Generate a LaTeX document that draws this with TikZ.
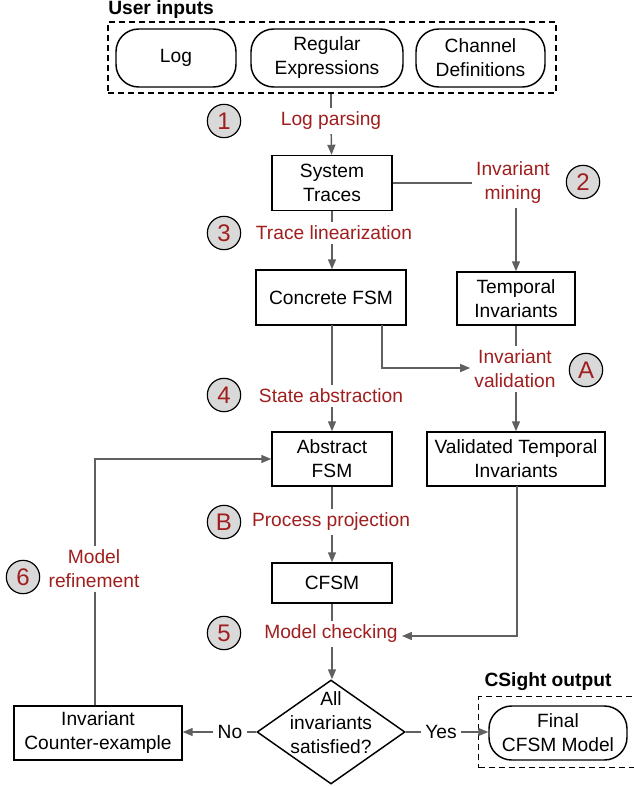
\documentclass[tikz,border=0pt]{standalone}
\usepackage{fontspec}
\setmainfont{Liberation Sans}
\usetikzlibrary{arrows.meta,shapes.geometric}

\definecolor{labred}{HTML}{A01E1E}
\definecolor{linegray}{HTML}{606060}
\definecolor{circfill}{HTML}{D9D9D9}

\begin{document}
\begin{tikzpicture}[x=0.75pt,y=-0.75pt,
  every node/.style={font=\fontsize{14.4pt}{18pt}\selectfont, align=center},
  box/.style={draw=black, line width=1.1pt, fill=white, inner sep=0pt},
  pill/.style={box, rounded corners=17pt},
  grp/.style={draw=black, line width=1.1pt, dash pattern=on 4.5pt off 3pt, inner sep=0pt},
  steplabel/.style={text=labred, inner sep=3pt},
  badge/.style={circle, draw=black, line width=0.9pt, fill=circfill, minimum size=25pt,
    inner sep=0pt, text=labred, font=\fontsize{18pt}{18pt}\selectfont},
  title/.style={font=\fontsize{14.4pt}{18pt}\selectfont\bfseries, inner sep=0pt},
  conn/.style={draw=linegray, line width=1.1pt},
  arr/.style={conn, -{Triangle[length=7.5pt,width=6pt]}},
]
\useasboundingbox (0,0) rectangle (634,786);

% ---- user inputs group
\node[grp, minimum width=336pt, minimum height=53.25pt] (inputs) at (332,57.5) {};
\node[title, anchor=west] (inputsT) at (108,10) {User inputs};
\node[pill, minimum width=90pt, minimum height=43.5pt] (log) at (176,58) {Log};
\node[pill, minimum width=114pt, minimum height=43.5pt] (regex) at (327,58) {Regular\\Expressions};
\node[pill, minimum width=96.75pt, minimum height=43.5pt] (chan) at (480.5,58) {Channel\\Definitions};

% ---- main column boxes
\node[box, minimum width=90pt, minimum height=41.25pt] (traces) at (332,183) {System\\Traces};
\node[box, minimum width=112.5pt, minimum height=41.25pt] (concrete) at (331,297.5) {Concrete FSM};
\node[box, minimum width=88.5pt, minimum height=39.75pt] (temporal) at (516,298.5) {Temporal\\Invariants};
\node[box, minimum width=90pt, minimum height=40.5pt] (abstract) at (332,459) {Abstract\\FSM};
\node[box, minimum width=133.5pt, minimum height=40.5pt] (validated) at (516,459) {Validated Temporal\\Invariants};
\node[box, minimum width=90pt, minimum height=30pt] (cfsm) at (332,583) {CFSM};
\node[box, minimum width=126pt, minimum height=40.5pt] (counter) at (98,733) {Invariant\\Counter-example};
\node[draw=black, line width=1.1pt, diamond, minimum width=111pt, minimum height=78pt, inner sep=0pt] (check) at (331,732) {};
\node[inner sep=0pt] (checkT) at (331,722.5) {All\\invariants\\satisfied?};

% ---- output group (its right side runs past the page edge)
\node[grp, minimum width=132pt, minimum height=53.25pt, anchor=north west] (outgrp) at (478,696) {};
\node[title] (outT) at (548,682) {CSight output};
\node[pill, minimum width=103.5pt, minimum height=40.5pt] (final) at (558,733) {Final\\CFSM Model};

% ---- step labels
\node[steplabel] (lparse) at (331,121) {Log parsing};
\node[steplabel] (mine) at (513,183) {Invariant\\mining};
\node[steplabel] (linear) at (334,233) {Trace linearization};
\node[steplabel] (valid) at (515,369) {Invariant\\validation};
\node[steplabel] (abstr) at (331,396) {State abstraction};
\node[steplabel] (proj) at (331,522) {Process projection};
\node[steplabel] (mcheck) at (331,634) {Model checking};
\node[steplabel] (refine) at (94,569) {Model\\refinement};
\node[inner sep=3pt] (no) at (230,732) {No};
\node[inner sep=3pt] (yes) at (441,732) {Yes};

% ---- numbered badges
\node[badge] (b1) at (224,121) {1};
\node[badge] (b2) at (583,182) {2};
\node[badge] (b3) at (224,233) {3};
\node[badge] (bA) at (586,370) {A};
\node[badge] (b4) at (224,395) {4};
\node[badge] (bB) at (224,522) {B};
\node[badge] (b5) at (224,633) {5};
\node[badge] (b6) at (23,577) {6};

% ---- connectors
\coordinate (inBot) at (inputs.south -| lparse);
\draw[conn] (inBot) -- (lparse);
\draw[arr] (lparse) -- (traces);

\draw[conn] (traces.east) -- (traces.east -| mine.west);
\draw[arr] (mine.south -| temporal.north) -- (temporal.north);

\draw[conn] (traces.south) -- (traces.south |- linear.north);
\draw[arr] (traces.south |- linear.south) -- (concrete.north -| traces.south);

\coordinate (cfTap) at (382,325);
\coordinate (cfBend) at (382,368);
\draw[arr] (cfTap) -- (cfBend) -- (cfBend -| valid.west);
\draw[conn] (temporal.south) -- (temporal.south |- valid.north);
\draw[arr] (temporal.south |- valid.south) -- (validated.north -| temporal.south);

\coordinate (cfDown) at (332,325);
\draw[conn] (cfDown) -- (cfDown |- abstr.north);
\draw[arr] (cfDown |- abstr.south) -- (abstract.north);

\draw[conn] (abstract.south) -- (abstract.south |- proj.north);
\draw[arr] (abstract.south |- proj.south) -- (cfsm.north);

\draw[conn] (cfsm.south) -- (cfsm.south |- mcheck.north);
\draw[arr] (cfsm.south |- mcheck.south) -- (check.north -| cfsm.south);

\coordinate (vTap) at (517,486);
\coordinate (vBend) at (517,636);
\draw[arr] (vTap) -- (vBend) -- (vBend -| mcheck.east);

\draw[conn] (check.west) -- (no.east);
\draw[arr] (no.west) -- (counter.east |- no.west);
\draw[conn] (check.east) -- (yes.west);
\draw[arr] (yes.east) -- (final.west |- yes.east);

\coordinate (rTop) at (95,459);
\draw[conn] (counter.north -| rTop) -- (refine.south -| rTop);
\draw[arr] (refine.north -| rTop) -- (rTop) -- (abstract.west);
\end{tikzpicture}
\end{document}
